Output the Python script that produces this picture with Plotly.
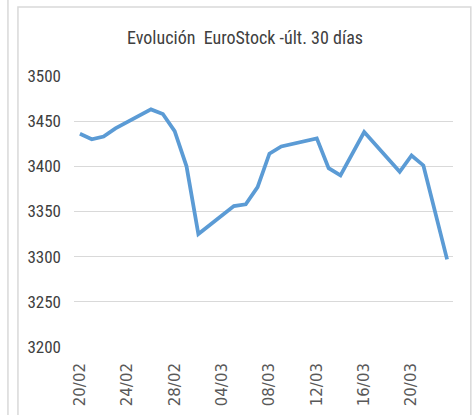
import plotly.graph_objects as go

# Data
dates = [
    "2018-02-20", "2018-02-21", "2018-02-22", "2018-02-23",
    "2018-02-26", "2018-02-27", "2018-02-28", "2018-03-01", "2018-03-02",
    "2018-03-05", "2018-03-06", "2018-03-07", "2018-03-08", "2018-03-09",
    "2018-03-12", "2018-03-13", "2018-03-14", "2018-03-16",
    "2018-03-19", "2018-03-20", "2018-03-21", "2018-03-23",
]
values = [
    3436, 3430, 3433, 3442,
    3463, 3458, 3439, 3400, 3325,
    3356, 3358, 3377, 3414, 3422,
    3431, 3398, 3390, 3438,
    3394, 3412, 3401, 3297,
]
tick_dates = ["2018-02-20", "2018-02-24", "2018-02-28", "2018-03-04",
              "2018-03-08", "2018-03-12", "2018-03-16", "2018-03-20"]
tick_labels = ["20/02", "24/02", "28/02", "04/03", "08/03", "12/03", "16/03", "20/03"]
y_ticks = [3200, 3250, 3300, 3350, 3400, 3450, 3500]

W, H = 473, 415
L, R, T, B = 74, 20.3, 76, 68.3
pw = W - L - R
ph = H - T - B

def px2paper_x(px):
    return (px - L) / pw

def px2paper_y(py):
    return (H - B - py) / ph

NARROW = "Liberation Sans Narrow, Arial Narrow, Roboto Condensed, Liberation Sans, Arial, sans-serif"

fig = go.Figure()
fig.add_trace(go.Scatter(
    x=dates, y=values, mode="lines",
    line=dict(color="#5B9BD5", width=3.75, shape="linear"),
    hoverinfo="skip", showlegend=False,
))

fig.update_layout(
    width=W, height=H,
    margin=dict(l=L, r=R, t=T, b=B, autoexpand=False),
    paper_bgcolor="white", plot_bgcolor="white",
    title=dict(
        text="Evolución\u00a0 EuroStock -últ. 30 días",
        x=245 / W, xref="container", xanchor="center",
        y=1 - 38 / H, yref="container", yanchor="middle",
        font=dict(family=NARROW, size=18, color="#404040", weight="normal"),
    ),
    xaxis=dict(
        type="date",
        range=["2018-02-19 12:00", "2018-03-23 12:00"],
        tickvals=tick_dates, ticktext=tick_labels,
        tickangle=-90,
        tickfont=dict(family="DejaVu Sans", size=15, color="#595959"),
        showgrid=False, zeroline=False, showline=False,
        ticks="", ticklabelstandoff=12,
    ),
    yaxis=dict(
        range=[3200, 3500],
        tickvals=y_ticks,
        tickfont=dict(family=NARROW, size=17, color="#404040"),
        showgrid=True, gridcolor="#D9D9D9", gridwidth=1,
        zeroline=False, showline=False, ticks="",
        ticklabelstandoff=12,
    ),
    shapes=[
        # chart frame
        dict(type="rect", xref="paper", yref="paper",
             x0=px2paper_x(18), x1=px2paper_x(470.5),
             y0=px2paper_y(430), y1=px2paper_y(7),
             line=dict(color="#D9D9D9", width=1.5), layer="below"),
        # edge of neighbouring frame
        dict(type="line", xref="paper", yref="paper",
             x0=px2paper_x(8), x1=px2paper_x(8),
             y0=px2paper_y(0), y1=px2paper_y(430),
             line=dict(color="#D9D9D9", width=1.5), layer="below"),
    ],
)

fig.write_html(
    "out.html",
    config={"displayModeBar": False},
    post_script="document.body.style.margin='0';document.body.style.overflow='hidden';",
)
